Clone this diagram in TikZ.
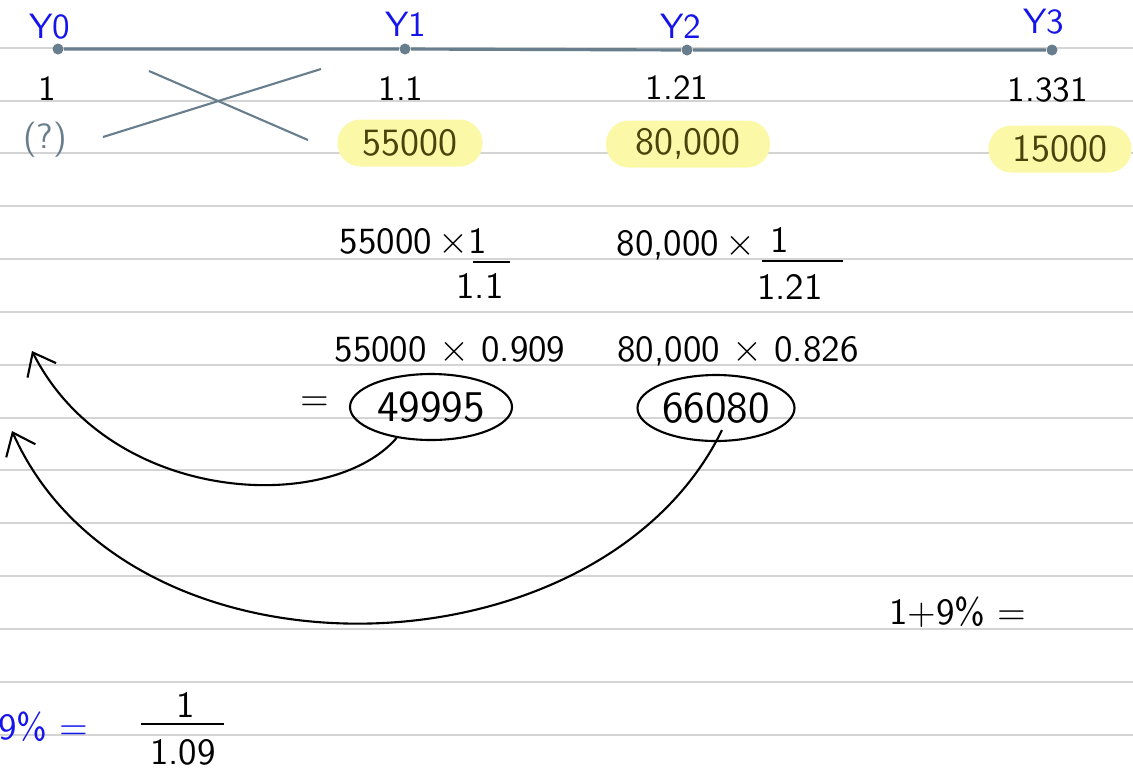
\documentclass[tikz,border=0pt]{standalone}
\usepackage{fontspec}
\usepackage{tikz}
\usetikzlibrary{arrows.meta,shapes.geometric}

\definecolor{ruleg}{RGB}{212,212,212}
\definecolor{tlgrey}{RGB}{104,126,140}
\definecolor{inkblue}{RGB}{20,20,235}
\definecolor{hilite}{RGB}{251,248,168}
\definecolor{pillink}{RGB}{72,68,12}

\begin{document}
\begin{tikzpicture}[
  x=0.1mm, y=-0.1mm,
  font=\sffamily,
  rule/.style={draw=ruleg, line width=0.6pt},
  tline/.style={draw=tlgrey, line width=0.9pt},
  dot/.style={circle, fill=tlgrey, inner sep=0pt, minimum size=1.1mm},
  yr/.style={text=inkblue, font=\sffamily\normalsize},
  fac/.style={font=\sffamily\normalsize},
  pill/.style={fill=hilite, rounded corners=2.3mm, minimum height=4.7mm,
               inner sep=0pt, text=pillink, font=\sffamily\fontsize{11}{13}\selectfont},
  calc/.style={font=\sffamily\fontsize{10.5}{12}\selectfont},
  ring/.style={draw, ellipse, line width=0.6pt, inner sep=0pt,
               minimum height=6.6mm, font=\sffamily\fontsize{12.5}{14}\selectfont},
  ink/.style={line width=0.6pt},
  arr/.style={-{Straight Barb[length=2mm,width=3.2mm]}, line width=0.6pt},
]
\useasboundingbox (0,0) rectangle (1133,769);

% ---- Ruled paper -----------------------------------------------------------
\foreach \y in {48,101,153,206,259,312,365,418,470,523,576,629,682,735}
  \draw[rule] (0,\y) -- (1133,\y);

% ---- Time line -------------------------------------------------------------
\node[dot] (t0) at (58,49) {};
\node[dot] (t1) at (405,49) {};
\node[dot] (t2) at (687,50) {};
\node[dot] (t3) at (1052,50) {};
\draw[tline] (t0) -- (t1) -- (t2) -- (t3);

\node[yr] (y0) at (50,27) {Y0};
\node[yr] (y1) at (406,24) {Y1};
\node[yr] (y2) at (681,26) {Y2};
\node[yr] (y3) at (1044,22) {Y3};

% ---- Growth factors --------------------------------------------------------
\node[fac] (f0) at (47,89) {1};
\node[fac] (f1) at (401,89) {1.1};
\node[fac] (f2) at (677,88) {1.21};
\node[fac] (f3) at (1048,90) {1.331};

% ---- Cash flows ------------------------------------------------------------
\node[fac, text=tlgrey] (q0) at (45,140) {(?)};
\draw[tline, line width=0.6pt] (149,71) -- (308,140);
\draw[tline, line width=0.6pt] (103,137) -- (321,69);

\node[pill, minimum width=14.5mm] (c1) at (410,143) {55000};
\node[pill, minimum width=16.4mm] (c2) at (688,144) {80,000};
\node[pill, minimum width=14.3mm] (c3) at (1060,149) {15000};

% ---- Discounting -----------------------------------------------------------
\node[calc] (d1) at (404,243) {55000\,$\times$};
\node[calc] (n1) at (478,241) {1};
\draw[ink] (473,262) -- (510,262);
\node[calc] (m1) at (480,286) {1.1};

\node[calc] (d2) at (686,245) {80,000\,$\times$};
\node[calc] (n2) at (780,240) {1};
\draw[ink] (762,261) -- (843,261);
\node[calc] (m2) at (790,287) {1.21};

\node[calc] (p1) at (450,351) {55000 $\times$ 0.909};
\node[calc] (p2) at (738,351) {80,000 $\times$ 0.826};

% ---- Present values --------------------------------------------------------
\node[calc] (eq) at (315,404) {=};
\node[ring, minimum width=16.2mm] (r1) at (431,407) {49995};
\node[ring, minimum width=15.7mm] (r2) at (716,408) {66080};

\coordinate (a1) at (32,351);
\coordinate (a2) at (12,431);
\draw[arr] (r1.222) .. controls (330,515) and (110,505) .. (a1);
\draw[arr] ([shift={(6,-12)}]r2.south) .. controls (600,680) and (130,695) .. (a2);

% ---- Rate notes ------------------------------------------------------------
\node[calc] (pct) at (958,612) {1+9\% =};

\node[calc, text=inkblue, anchor=west] (rate) at (-14,727) {9\% =};
\node[calc] (n3) at (186,705) {1};
\draw[ink] (141,724) -- (224,724);
\node[calc] (m3) at (183,752) {1.09};

\end{tikzpicture}
\end{document}
